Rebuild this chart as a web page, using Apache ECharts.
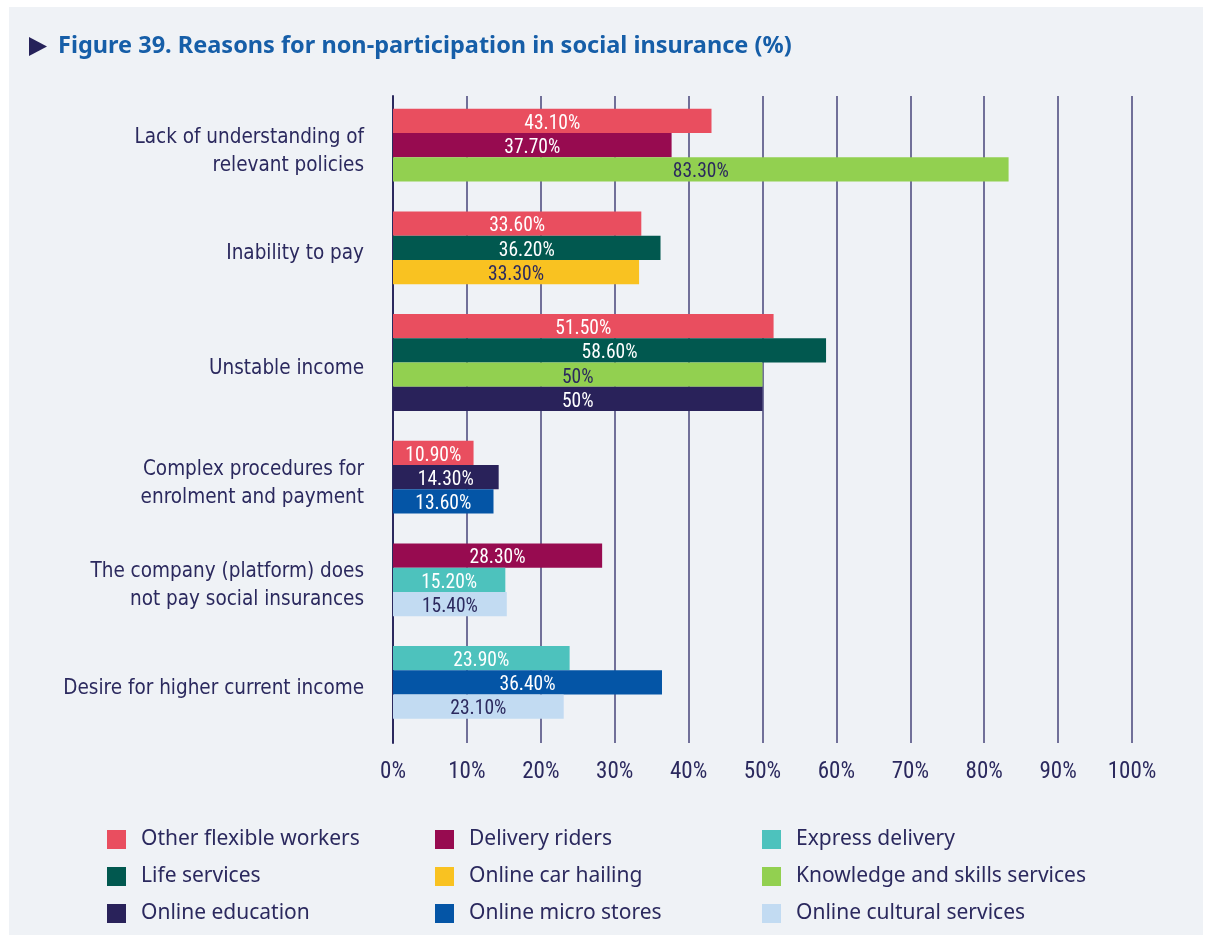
<!DOCTYPE html>
<html><head><meta charset="utf-8">
<script src="https://cdn.jsdelivr.net/npm/echarts@6/dist/echarts.min.js"></script>
<style>html,body{margin:0;padding:0;background:#ffffff;}</style>
</head><body>
<div id="chart" style="width:1211px;height:943px"></div>
<script>
// ---------------- data ----------------
var titleText = 'Figure 39. Reasons for non-participation in social insurance (%)';
var categories = [
  'Lack of understanding of\nrelevant policies',
  'Inability to pay',
  'Unstable income',
  'Complex procedures for\nenrolment and payment',
  'The company (platform) does\nnot pay social insurances',
  'Desire for higher current income'
];
var seriesNames = [
  'Other flexible workers', 'Delivery riders', 'Express delivery',
  'Life services', 'Online car hailing', 'Knowledge and skills services',
  'Online education', 'Online micro stores', 'Online cultural services'
];
var otherFlexibleWorkers   = [43.1, 33.6, 51.5, 10.9, null, null];
var deliveryRiders         = [37.7, null, null, null, 28.3, null];
var expressDelivery        = [null, null, null, null, 15.2, 23.9];
var lifeServices           = [null, 36.2, 58.6, null, null, null];
var onlineCarHailing       = [null, 33.3, null, null, null, null];
var knowledgeSkills        = [83.3, null, 50,   null, null, null];
var onlineEducation        = [null, null, 50,   14.3, null, null];
var onlineMicroStores      = [null, null, null, 13.6, null, 36.4];
var onlineCulturalServices = [null, null, null, null, 15.4, 23.1];
var xTickValues = [0, 10, 20, 30, 40, 50, 60, 70, 80, 90, 100];

// ---------------- styles ----------------
var seriesValues = [otherFlexibleWorkers, deliveryRiders, expressDelivery, lifeServices,
  onlineCarHailing, knowledgeSkills, onlineEducation, onlineMicroStores, onlineCulturalServices];
var seriesColors = ['#e94e5f', '#970b50', '#4dc2bd', '#01584f', '#f9c221',
  '#92d050', '#29225a', '#0455a6', '#c2dbf2'];
var NAVY = '#2b295e';
var darkLabel = { 'Online car hailing': 1, 'Knowledge and skills services': 1, 'Online cultural services': 1 };

// layout in bar units along the hidden y axis
var BAR = 1, GAP = 1.23, PAD_TOP = 0.53, PAD_BOTTOM = 1.0;
var slotData = seriesValues.map(function () { return []; });
var groupCenters = [];
var pos = PAD_TOP;
categories.forEach(function (cat, ci) {
  var start = pos;
  seriesValues.forEach(function (vals, si) {
    if (vals[ci] != null) { slotData[si].push([vals[ci], pos, ci]); pos += BAR; }
  });
  groupCenters.push([0, (start + pos) / 2, ci]);
  pos += GAP;
});
var yMax = pos - GAP + PAD_BOTTOM;

function fmt(v) { return (Math.round(v) === v ? String(v) : v.toFixed(2)) + '%'; }

var series = seriesNames.map(function (name, si) {
  var col = seriesColors[si];
  var lab = darkLabel[name] ? NAVY : '#ffffff';
  return {
    type: 'custom', name: name, data: slotData[si],
    encode: { x: 0, y: 1 },
    itemStyle: { color: col },
    renderItem: function (params, api) {
      var v = api.value(0), s = api.value(1);
      var p0 = api.coord([0, s]);
      var p1 = api.coord([v, s + BAR]);
      return {
        type: 'rect',
        shape: { x: p0[0], y: p0[1], width: p1[0] - p0[0], height: p1[1] - p0[1] },
        style: { fill: col },
        textContent: { style: { text: fmt(v), fill: lab, fontSize: 19.5, fontFamily: "'Roboto Condensed'" } },
        textConfig: { position: 'inside', offset: [0, 3] }
      };
    },
    z: 2
  };
});
series.push({
  type: 'custom', name: 'categoryLabels', data: groupCenters, encode: { x: 0, y: 1 },
  silent: true, clip: false,
  renderItem: function (params, api) {
    var p = api.coord([0, api.value(1)]);
    return {
      type: 'text', x: p[0] - 29, y: p[1] + 6,
      style: { text: categories[api.value(2)], align: 'right', verticalAlign: 'middle',
        fontSize: 20.5, lineHeight: 28, fontFamily: "'DejaVu Sans Condensed'", fill: NAVY }
    };
  }
});

function legendCol(left, idx) {
  return {
    orient: 'vertical', left: left, top: 829, padding: 0,
    data: idx.map(function (i) { return seriesNames[i]; }),
    icon: 'rect', itemWidth: 19, itemHeight: 19, itemGap: 16, selectedMode: false,
    textStyle: { fontFamily: "'Noto Sans'", fontSize: 21, color: NAVY, padding: [0, 0, 0, 10] }
  };
}

var chart = echarts.init(document.getElementById('chart'), null, { renderer: 'canvas' });
chart.setOption({
  backgroundColor: '#ffffff',
  animation: false,
  graphic: [
    { type: 'rect', z: -10, shape: { x: 9, y: 7, width: 1194, height: 928 }, style: { fill: '#eff2f6' } },
    { type: 'polygon', shape: { points: [[29, 37], [47, 46.5], [29, 56]] }, style: { fill: '#26225a' } },
    { type: 'text', x: 58, y: 46, style: { text: titleText, fontSize: 23.5, fontWeight: 'bold',
      fontFamily: "'Noto Sans'", fill: '#165ea8', verticalAlign: 'middle' } }
  ],
  grid: { left: 393, right: 79, top: 96, bottom: 200 },
  xAxis: {
    type: 'value', min: 0, max: 100, interval: 10,
    axisLine: { show: false }, axisTick: { show: false },
    splitLine: { show: true, lineStyle: { color: '#47457a', width: 1.5 } },
    axisLabel: { margin: 18, color: NAVY, fontSize: 23, fontFamily: "'Roboto Condensed'",
      formatter: function (v) { return xTickValues.indexOf(v) >= 0 ? v + '%' : ''; } }
  },
  yAxis: {
    type: 'value', min: 0, max: yMax, inverse: true,
    axisLine: { show: true, onZero: false, lineStyle: { color: '#2b295e', width: 2 } },
    axisTick: { show: false }, axisLabel: { show: false }, splitLine: { show: false }
  },
  legend: [legendCol(107, [0, 3, 6]), legendCol(435, [1, 4, 7]), legendCol(762, [2, 5, 8])],
  series: series
});
</script></body></html>
